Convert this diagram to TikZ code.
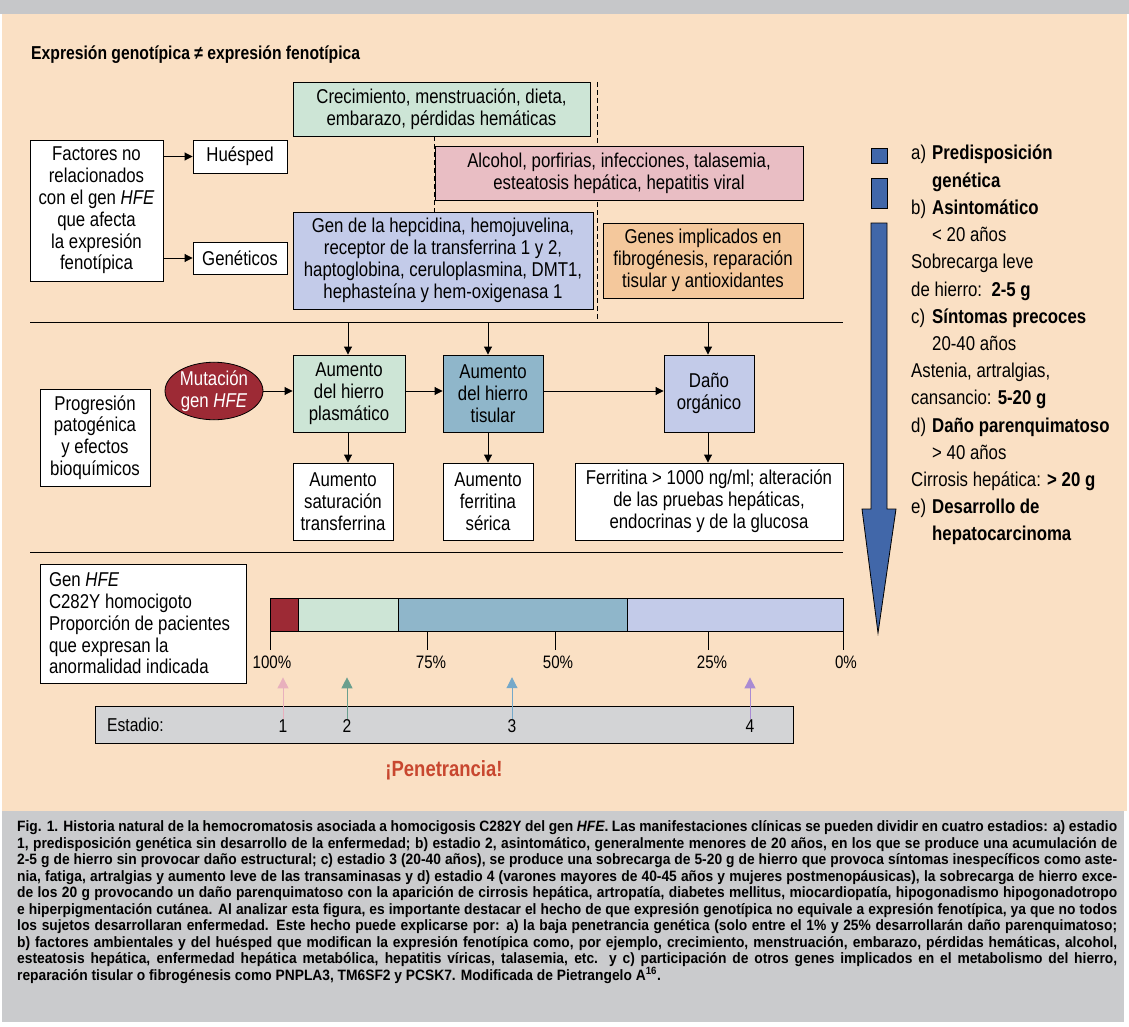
\documentclass[tikz,border=0pt]{standalone}
\usepackage{fontspec}
\setmainfont{Liberation Sans}[FakeStretch=0.84]
\newfontfamily\capfont{Liberation Sans}[FakeStretch=0.92]
\usetikzlibrary{arrows.meta,shapes.geometric}
\definecolor{beige}{HTML}{FAE0C4}
\definecolor{topgray}{HTML}{C6C7C9}
\definecolor{capgray}{HTML}{CACBCD}
\definecolor{cgreen}{HTML}{CDE5D6}
\definecolor{cpink}{HTML}{E9BEC4}
\definecolor{clav}{HTML}{C3CBE9}
\definecolor{corange}{HTML}{F4C89C}
\definecolor{csteel}{HTML}{8FB6CA}
\definecolor{cdred}{HTML}{9D2A35}
\definecolor{cstage}{HTML}{D3D4D6}
\definecolor{cablue}{HTML}{4167A9}
\definecolor{cpen}{HTML}{C8472F}
\definecolor{apink}{HTML}{E8B0BD}
\definecolor{ateal}{HTML}{6A9F8E}
\definecolor{ablue}{HTML}{74A8C9}
\definecolor{apurple}{HTML}{A98BD3}
\begin{document}
\begin{tikzpicture}[x=1pt,y=-1pt,
  box/.style={draw=black, line width=0.9pt, align=center, inner sep=2pt, font=\fontsize{20}{21.8}\selectfont},
  arr/.style={line width=0.9pt, -{Triangle[length=8pt,width=8pt]}},
  carr/.style={line width=1pt, -{Triangle[length=11pt,width=11pt]}},
  dline/.style={line width=0.9pt, dash pattern=on 5pt off 3pt},
  leg/.style={anchor=base west, inner sep=0, font=\fontsize{20}{22}\selectfont},
  pct/.style={inner sep=0, font=\fontsize{18}{20}\selectfont},
  stnum/.style={inner sep=0, font=\fontsize{18.6}{21}\selectfont}]
\useasboundingbox (0,0) rectangle (1129,1027);
\fill[white] (0,0) rectangle (1129,1027);
\fill[topgray] (0,0) rectangle (1129,14);
\fill[beige] (2,14) rectangle (1127,811);
\fill[capgray] (2,811) rectangle (1124,1022);

% title
\node[anchor=west, inner sep=0, font=\bfseries\fontsize{18.7}{20}\selectfont] (title) at (31,55) {Expresión genotípica ≠ expresión fenotípica};

% dashed lines
\coordinate (d1t) at (597,82);
\coordinate (d1b) at (597,322);
\draw[dline] (d1t) -- (d1b);
\coordinate (d2t) at (434,136);
\coordinate (d2b) at (434,212);
\draw[dline] (d2t) -- (d2b);

% top section boxes
\node[box, fill=cgreen, minimum width=297pt, minimum height=54pt] (crec) at (441.5,109) {Crecimiento, menstruación, dieta,\\embarazo, pérdidas hemáticas};
\node[box, fill=cpink, minimum width=368pt, minimum height=54pt] (alc) at (619,173) {Alcohol, porfirias, infecciones, talasemia,\\esteatosis hepática, hepatitis viral};
\node[box, fill=clav, minimum width=300pt, minimum height=97pt] (genhep) at (443,260.5) {Gen de la hepcidina, hemojuvelina,\\receptor de la transferrina 1 y 2,\\haptoglobina, ceruloplasmina, DMT1,\\hephasteína y hem-oxigenasa 1};
\node[box, fill=corange, minimum width=200pt, minimum height=75pt] (genimpl) at (703,260.5) {Genes implicados en\\fibrogénesis, reparación\\tisular y antioxidantes};
\node[box, fill=white, minimum width=133pt, minimum height=141pt] (fact) at (96.5,210.5) {Factores no\\relacionados\\con el gen \textit{HFE}\\que afecta\\la expresión\\fenotípica};
\node[box, fill=white, minimum width=94pt, minimum height=33pt] (hues) at (240,156.5) {Huésped};
\node[box, fill=white, minimum width=94pt, minimum height=32pt] (genet) at (240,258) {Genéticos};
\draw[arr] (hues.west -| fact.east) -- (hues.west);
\draw[arr] (genet.west -| fact.east) -- (genet.west);

% separator lines
\coordinate (s1a) at (30,322);
\coordinate (s1b) at (843,322);
\draw[line width=0.9pt] (s1a) -- (s1b);
\coordinate (s2a) at (30,552);
\coordinate (s2b) at (843,552);
\draw[line width=0.9pt] (s2a) -- (s2b);

% middle section
\node[box, fill=cgreen, minimum width=112pt, minimum height=77pt] (plasm) at (349,393.5) {Aumento\\del hierro\\plasmático};
\node[box, fill=csteel, minimum width=100pt, minimum height=77pt] (tisu) at (493,393.5) {Aumento\\del hierro\\tisular};
\node[box, fill=clav, minimum width=90pt, minimum height=77pt] (dano) at (709,393.5) {Daño\\orgánico};
\node[ellipse, draw=black, line width=0.8pt, fill=cdred, text=white, align=center, inner sep=0, minimum width=98pt, minimum height=56pt, font=\fontsize{20}{21.8}\selectfont] (mut) at (214,391) {Mutación\\gen \textit{HFE}};
\node[box, fill=white, minimum width=110pt, minimum height=97pt] (prog) at (95,437.5) {Progresión\\patogénica\\y efectos\\bioquímicos};
\node[box, fill=white, minimum width=100pt, minimum height=77pt] (sat) at (343,501.5) {Aumento\\saturación\\transferrina};
\node[box, fill=white, minimum width=90pt, minimum height=77pt] (ferr) at (488,501.5) {Aumento\\ferritina\\sérica};
\node[box, fill=white, minimum width=268pt, minimum height=77pt] (ferr2) at (709,501.5) {Ferritina > 1000 ng/ml; alteración\\de las pruebas hepáticas,\\endocrinas y de la glucosa};

\coordinate (v1) at (348,322);
\coordinate (v2) at (488,322);
\coordinate (v3) at (708,322);
\draw[arr] (v1) -- (v1 |- plasm.north);
\draw[arr] (v2) -- (v2 |- tisu.north);
\draw[arr] (v3) -- (v3 |- dano.north);
\draw[arr] (mut.east) -- (mut.east -| plasm.west);
\draw[arr] (plasm.east |- mut.east) -- (tisu.west |- mut.east);
\draw[arr] (tisu.east |- mut.east) -- (dano.west |- mut.east);
\draw[arr] (v1 |- plasm.south) -- (v1 |- sat.north);
\draw[arr] (v2 |- tisu.south) -- (v2 |- ferr.north);
\draw[arr] (v3 |- dano.south) -- (v3 |- ferr2.north);

% legend arrow
\draw[fill=cablue, line width=0.8pt] (871,148) rectangle (887,163);
\draw[fill=cablue, line width=0.8pt] (871,178) rectangle (887,208);
\draw[fill=cablue, line width=0.8pt] (871,223) -- (887,223) -- (887,509) -- (896,509) -- (878,633) -- (862,509) -- (871,509) -- cycle;
\node[leg] (g1) at (911,160) {\makebox[21pt][l]{a)}\textbf{Predisposición}};
\node[leg] (g2) at (932,187.2) {\textbf{genética}};
\node[leg] (g3) at (911,214.4) {\makebox[21pt][l]{b)}\textbf{Asintomático}};
\node[leg] (g4) at (932,241.6) {< 20 años};
\node[leg] (g5) at (911,268.8) {Sobrecarga leve};
\node[leg] (g6) at (911,296) {de hierro:~~\textbf{2-5 g}};
\node[leg] (g7) at (911,323.2) {\makebox[21pt][l]{c)}\textbf{Síntomas precoces}};
\node[leg] (g8) at (932,350.4) {20-40 años};
\node[leg] (g9) at (911,377.6) {Astenia, artralgias,};
\node[leg] (g10) at (911,404.8) {cansancio: \textbf{5-20 g}};
\node[leg] (g11) at (911,432) {\makebox[21pt][l]{d)}\textbf{Daño parenquimatoso}};
\node[leg] (g12) at (932,459.2) {> 40 años};
\node[leg] (g13) at (911,486.4) {Cirrosis hepática: \textbf{> 20 g}};
\node[leg] (g14) at (911,513.6) {\makebox[21pt][l]{e)}\textbf{Desarrollo de}};
\node[leg] (g15) at (932,540.8) {\textbf{hepatocarcinoma}};

% bottom section
\node[draw=black, line width=0.9pt, fill=white, text width=188pt, inner xsep=9pt, inner ysep=2pt, minimum height=119pt, align=flush left, font=\fontsize{20}{21.7}\selectfont] (genhfe) at (143,623.5) {Gen \textit{HFE}\\C282Y homocigoto\\Proporción de pacientes\\que expresan la\\anormalidad indicada};
\draw[line width=0.9pt, fill=cdred] (270,598) rectangle (298,631);
\draw[line width=0.9pt, fill=cgreen] (298,598) rectangle (398,631);
\draw[line width=0.9pt, fill=csteel] (398,598) rectangle (627,631);
\draw[line width=0.9pt, fill=clav] (627,598) rectangle (843,631);
\foreach \tx in {270,427,555,708,843} \draw[line width=0.9pt] (\tx,631) -- (\tx,650);
\node[pct] (p100) at (272,662) {100\%};
\node[pct] (p75) at (431,662) {75\%};
\node[pct] (p50) at (558,662) {50\%};
\node[pct] (p25) at (712,662) {25\%};
\node[pct] (p0) at (846,662) {0\%};

\node[draw=black, line width=0.9pt, fill=cstage, minimum width=698pt, minimum height=37pt, inner sep=0] (stage) at (444,724.5) {};
\node[anchor=west, inner sep=0, font=\fontsize{18.6}{21}\selectfont] (estlab) at (107,724.5) {Estadio:};
\node[stnum] (n1) at (283,726) {1};
\node[stnum] (n2) at (347,726) {2};
\node[stnum] (n3) at (512,726) {3};
\node[stnum] (n4) at (750,726) {4};
\draw[carr, apink] (n1.north) -- ++(0,-42);
\draw[carr, ateal] (n2.north) -- ++(0,-42);
\draw[carr, ablue] (n3.north) -- ++(0,-42);
\draw[carr, apurple] (n4.north) -- ++(0,-42);

\node[inner sep=0, text=cpen, font=\bfseries\fontsize{22}{24}\selectfont] (pen) at (444,770) {¡Penetrancia!};

% caption
\node[anchor=north west, align=left, inner sep=0, font=\capfont\bfseries\fontsize{15}{16.5}\selectfont] (cap) at (17,820.5) {%
\makebox[1100pt][s]{Fig. 1. Historia natural de la hemocromatosis asociada a homocigosis C282Y del gen \textit{HFE}. Las manifestaciones clínicas se pueden dividir en cuatro estadios: a) estadio}\\
\makebox[1100pt][s]{1, predisposición genética sin desarrollo de la enfermedad; b) estadio 2, asintomático, generalmente menores de 20 años, en los que se produce una acumulación de}\\
\makebox[1100pt][s]{2-5 g de hierro sin provocar daño estructural; c) estadio 3 (20-40 años), se produce una sobrecarga de 5-20 g de hierro que provoca síntomas inespecíficos como aste-}\\
\makebox[1100pt][s]{nia, fatiga, artralgias y aumento leve de las transaminasas y d) estadio 4 (varones mayores de 40-45 años y mujeres postmenopáusicas), la sobrecarga de hierro exce-}\\
\makebox[1100pt][s]{de los 20 g provocando un daño parenquimatoso con la aparición de cirrosis hepática, artropatía, diabetes mellitus, miocardiopatía, hipogonadismo hipogonadotropo}\\
\makebox[1100pt][s]{e hiperpigmentación cutánea. Al analizar esta figura, es importante destacar el hecho de que expresión genotípica no equivale a expresión fenotípica, ya que no todos}\\
\makebox[1100pt][s]{los sujetos desarrollaran enfermedad. Este hecho puede explicarse por: a) la baja penetrancia genética (solo entre el 1\% y 25\% desarrollarán daño parenquimatoso;}\\
\makebox[1100pt][s]{b) factores ambientales y del huésped que modifican la expresión fenotípica como, por ejemplo, crecimiento, menstruación, embarazo, pérdidas hemáticas, alcohol,}\\
\makebox[1100pt][s]{esteatosis hepática, enfermedad hepática metabólica, hepatitis víricas, talasemia, etc. y c) participación de otros genes implicados en el metabolismo del hierro,}\\
reparación tisular o fibrogénesis como PNPLA3, TM6SF2 y PCSK7. Modificada de Pietrangelo A\textsuperscript{16}.};
\end{tikzpicture}
\end{document}
